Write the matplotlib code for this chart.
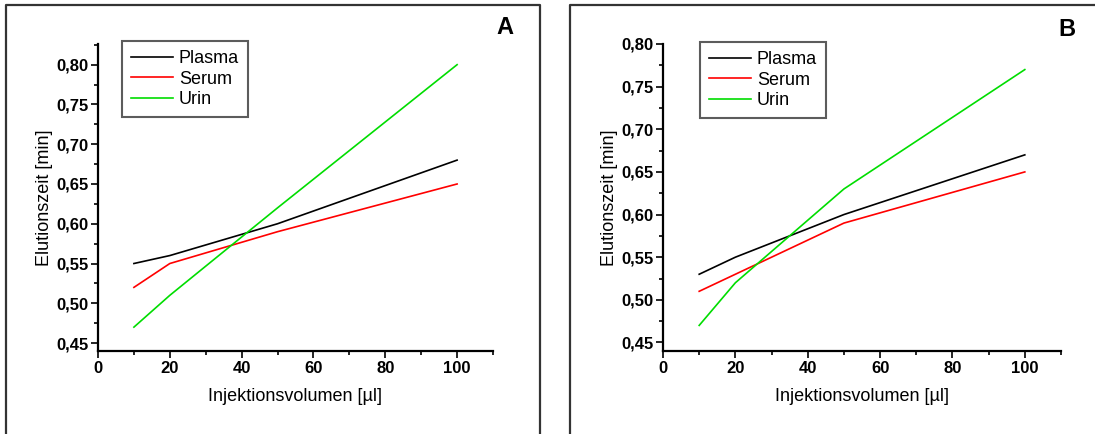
import numpy as np
import matplotlib
matplotlib.use("Agg")
import matplotlib.pyplot as plt
from matplotlib.ticker import MultipleLocator, FuncFormatter
from matplotlib.lines import Line2D

plt.rcParams['font.family'] = ['Liberation Sans', 'DejaVu Sans']

volume = [10, 20, 50, 100]

plasma_a = [0.55, 0.56, 0.60, 0.68]
serum_a = [0.52, 0.55, 0.59, 0.65]
urin_a = [0.47, 0.51, 0.62, 0.80]

plasma_b = [0.53, 0.55, 0.60, 0.67]
serum_b = [0.51, 0.53, 0.59, 0.65]
urin_b = [0.47, 0.52, 0.63, 0.77]

W, H = 1095, 434
fig = plt.figure(figsize=(W / 100, H / 100), dpi=100)


def px_axes(left, top, right, bottom):
    return fig.add_axes([left / W, 1 - bottom / H, (right - left) / W, (bottom - top) / H])


def comma(v, pos):
    return "{:.2f}".format(v).replace('.', ',')


def setup(ax, ylim):
    ax.set_xlim(0, 110)
    ax.set_ylim(*ylim)
    for s in ['top', 'right']:
        ax.spines[s].set_visible(False)
    for s in ['left', 'bottom']:
        ax.spines[s].set_linewidth(1.6)
    ax.xaxis.set_major_locator(MultipleLocator(20))
    ax.xaxis.set_minor_locator(MultipleLocator(10))
    ax.yaxis.set_major_locator(MultipleLocator(0.05))
    ax.yaxis.set_minor_locator(MultipleLocator(0.025))
    ax.yaxis.set_major_formatter(FuncFormatter(comma))
    ax.tick_params(which='major', direction='out', length=5, width=1.2, labelsize=12, pad=2)
    ax.tick_params(which='minor', direction='out', length=3, width=1.2)
    for lab in ax.get_xticklabels() + ax.get_yticklabels():
        lab.set_fontweight('bold')
    ax.set_xlabel('Injektionsvolumen [µl]', fontsize=13, labelpad=9)
    ax.set_ylabel('Elutionszeit [min]', fontsize=13, labelpad=2)


ax1 = px_axes(98, 44, 493, 351)
ax1.plot(volume, plasma_a, color='black', lw=1.2, label='Plasma')
ax1.plot(volume, serum_a, color='red', lw=1.2, label='Serum')
ax1.plot(volume, urin_a, color='#00dd00', lw=1.2, label='Urin')
setup(ax1, (0.44, 0.826))

ax2 = px_axes(663, 44, 1061, 351)
ax2.plot(volume, plasma_b, color='black', lw=1.2, label='Plasma')
ax2.plot(volume, serum_b, color='red', lw=1.2, label='Serum')
ax2.plot(volume, urin_b, color='#00dd00', lw=1.2, label='Urin')
setup(ax2, (0.44, 0.80))

for ax, (lx, ly) in [(ax1, (122, 41)), (ax2, (700, 42))]:
    leg = ax.legend(loc='upper left', bbox_to_anchor=(lx / W, 1 - ly / H),
                    bbox_transform=fig.transFigure, fontsize=13, frameon=True,
                    fancybox=False, handlelength=2.3, handletextpad=0.35,
                    labelspacing=0.2, borderpad=0.5, borderaxespad=0)
    leg.get_frame().set_edgecolor('#333333')
    leg.get_frame().set_linewidth(1.5)

fig.text(505 / W, 1 - 28 / H, 'A', fontsize=17, fontweight='bold', ha='center', va='center')
fig.text(1067 / W, 1 - 30 / H, 'B', fontsize=17, fontweight='bold', ha='center', va='center')

# panel frames (open at the bottom)
for xs, ys in [([6, 6, 540, 540], [434, 5, 5, 434]), ([570, 570, 1100], [434, 5, 5])]:
    fig.add_artist(Line2D([x / W for x in xs], [1 - y / H for y in ys],
                          color='#333333', lw=1.6, transform=fig.transFigure))

fig.savefig('out.png', dpi=100)
